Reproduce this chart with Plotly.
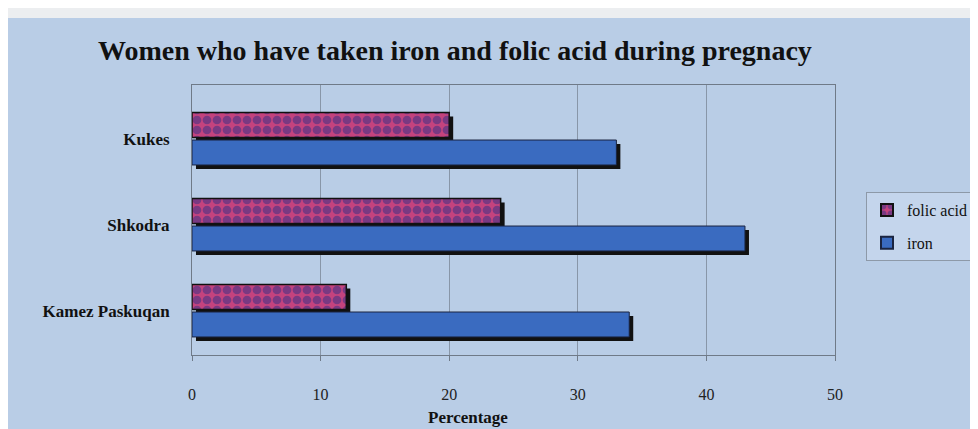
import plotly.graph_objects as go

categories = ["Kamez Paskuqan", "Shkodra", "Kukes"]
folic_acid = [12.0, 24.0, 20.0]
iron = [34.0, 43.0, 33.0]
x_ticks = [0, 10, 20, 30, 40, 50]

BLUE_BG = "#b9cde6"
IRON = "#3a6bc0"
PINK = "#c4437e"
NAVY = "#2e2f86"
SERIF = "Liberation Serif"

# the page body has an 8px margin; work in reference pixels and shift by O
O = 8
W, H = 978 - O, 429 - O
# plot area in reference pixels: x 192..835, y 85..355
L, R, T, B = 192 - O, 978 - 835, 85 - O, 429 - 355
pw, ph = W - L - R, H - T - B

def px(x):
    return (x - O - L) / pw

def py(y):
    return (H - B - (y - O)) / ph

sx = 0.31   # shadow shift along value axis (units)
sy = 0.047  # shadow shift along category axis (units)

fig = go.Figure()

# shadows
fig.add_trace(go.Bar(y=categories, x=iron, base=sx, orientation="h",
                     offset=-0.30 - sy, width=0.29,
                     marker=dict(color="#111111", line=dict(width=0)),
                     showlegend=False, hoverinfo="skip"))
fig.add_trace(go.Bar(y=categories, x=folic_acid, base=sx, orientation="h",
                     offset=0.02 - sy, width=0.29,
                     marker=dict(color="#111111", line=dict(width=0)),
                     showlegend=False, hoverinfo="skip"))

# real bars
fig.add_trace(go.Bar(y=categories, x=iron, orientation="h", name="iron",
                     offset=-0.30, width=0.29, legendrank=2, legendgroup="b",
                     marker=dict(color=IRON, line=dict(color="#1a2440", width=1))))
fig.add_trace(go.Bar(y=categories, x=folic_acid, orientation="h", name="folic acid",
                     offset=0.02, width=0.29, legendrank=1, legendgroup="a",
                     marker=dict(color=PINK, line=dict(color="#111111", width=1.5),
                                 pattern=dict(shape=".", fgcolor=NAVY, bgcolor=PINK,
                                              size=10, solidity=0.6, fillmode="overlay"))))

fig.update_layout(
    width=W, height=H,
    margin=dict(l=L, r=R, t=T, b=B, autoexpand=False),
    paper_bgcolor="#eceef0",
    plot_bgcolor=BLUE_BG,
    barmode="overlay",
    font=dict(family=SERIF, color="#111111"),
    showlegend=True,
    legend=dict(x=px(866), y=py(192), xanchor="left", yanchor="top",
                bgcolor="#c4d5ec", bordercolor="#8d99a8", borderwidth=1,
                font=dict(family=SERIF, size=16, color="#111111"),
                itemsizing="constant", tracegroupgap=9,
                traceorder="grouped"),
    shapes=[dict(type="rect", xref="paper", yref="paper", layer="below",
                 x0=px(8), x1=px(1000), y0=py(450), y1=py(18),
                 fillcolor=BLUE_BG, line=dict(width=0))],
    annotations=[
        dict(text="<b>Women who have taken iron and folic acid during pregnacy</b>",
             xref="paper", yref="paper", x=px(455), y=py(50),
             xanchor="center", yanchor="middle", showarrow=False,
             font=dict(family=SERIF, size=28, color="#111111")),
        dict(text="<b>Percentage</b>",
             xref="paper", yref="paper", x=px(468), y=py(417),
             xanchor="center", yanchor="middle", showarrow=False,
             font=dict(family=SERIF, size=17, color="#111111")),
    ],
)

fig.update_xaxes(range=[0, 50], tickvals=x_ticks, ticktext=[str(v) for v in x_ticks],
                 showgrid=True, gridcolor="#8896a8", gridwidth=1,
                 showline=True, linecolor="#6f7a88", linewidth=1, mirror=True,
                 ticks="outside", ticklen=5, tickcolor="#6f7a88",
                 ticklabelstandoff=20, zeroline=False,
                 tickfont=dict(family=SERIF, size=16, color="#222222"), fixedrange=True)
fig.update_yaxes(type="category", categoryorder="array", categoryarray=categories,
                 range=[-0.51, 2.63],
                 showgrid=False, showline=True, linecolor="#6f7a88", linewidth=1, mirror=True,
                 ticks="", ticklabelstandoff=18,
                 tickfont=dict(family=SERIF, size=17, color="#111111"),
                 tickvals=categories, ticktext=["<b>%s</b>" % c for c in categories],
                 fixedrange=True)

fig.write_html("out.html")
